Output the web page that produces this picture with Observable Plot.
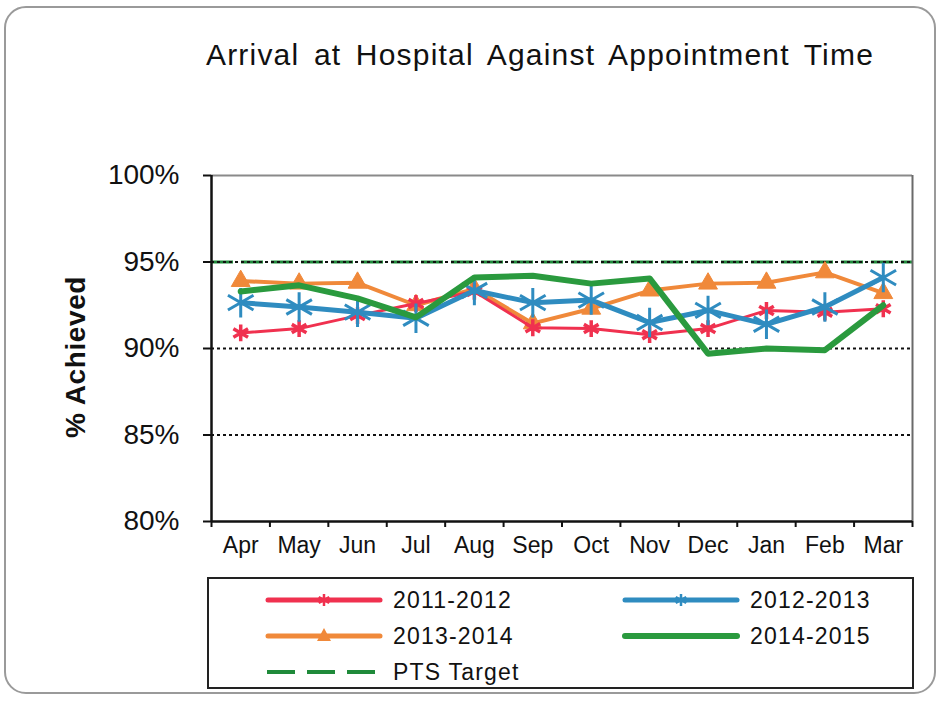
<!DOCTYPE html>
<html>
<head>
<meta charset="utf-8">
<script src="https://cdn.jsdelivr.net/npm/d3@7"></script>
<script src="https://cdn.jsdelivr.net/npm/@observablehq/plot@0.6"></script>
<style>
  html, body { margin: 0; padding: 0; background: #fff; }
  #wrap { position: relative; width: 942px; height: 702px; overflow: hidden; font-family: "Liberation Sans", Arial, sans-serif; }
  #border { position: absolute; left: 4px; top: 6px; width: 932px; height: 688px; border: 2px solid #9a9a9a; border-radius: 22px; box-sizing: border-box; }
  #title { position: absolute; left: 100px; width: 880px; top: 38px; text-align: center; font-size: 30px; color: #111; letter-spacing: 1.2px; word-spacing: 5px; }
  #chart { position: absolute; left: 0; top: 0; }
  #ylabel { position: absolute; left: 76px; top: 357px; transform: translate(-50%, -50%) rotate(-90deg); font-size: 28px; font-weight: bold; color: #111; white-space: nowrap; letter-spacing: 0.6px; }
  #legend { position: absolute; left: 207px; top: 577px; width: 707px; height: 112px; border: 2px solid #222; box-sizing: border-box; }
  .item { position: absolute; height: 30px; display: flex; align-items: center; font-size: 23px; color: #111; letter-spacing: 1.2px; }
  .item svg { margin-right: 10px; }
</style>
</head>
<body>
<div id="wrap">
  <div id="border"></div>
  <div id="title"></div>
  <div id="chart"></div>
  <div id="ylabel"></div>
  <div id="legend"></div>
</div>
<script>
const title = "Arrival at Hospital Against Appointment Time";
const yLabel = "% Achieved";
const months = ["Apr","May","Jun","Jul","Aug","Sep","Oct","Nov","Dec","Jan","Feb","Mar"];
const yTicks = [80, 85, 90, 95, 100];
const gridValues = [85, 90, 95];
const targetValue = 95;
const targetLabel = "PTS Target";

const s2011 = [90.9, 91.15, 91.9, 92.6, 93.3, 91.2, 91.15, 90.8, 91.15, 92.2, 92.1, 92.3];
const s2012 = [92.65, 92.4, 92.1, 91.75, 93.35, 92.65, 92.8, 91.5, 92.2, 91.4, 92.4, 94.1];
const s2013 = [93.9, 93.75, 93.8, 92.5, 93.45, 91.45, 92.3, 93.35, 93.75, 93.8, 94.4, 93.2];
const s2014 = [93.3, 93.65, 92.9, 91.8, 94.1, 94.2, 93.75, 94.05, 89.7, 90.0, 89.9, 92.5];

const seriesNames = ["2011-2012", "2012-2013", "2013-2014", "2014-2015"];
const seriesValues = [s2011, s2012, s2013, s2014];
const colors = {"2011-2012": "#f0314f", "2012-2013": "#2f8cc0", "2013-2014": "#f0893a", "2014-2015": "#2a9a3e"};
const targetColor = "#1f8a3a";

const rows = [];
seriesNames.forEach((name, si) => seriesValues[si].forEach((v, i) => rows.push({series: name, i, month: months[i], value: v})));
const bySeries = name => rows.filter(r => r.series === name);

document.getElementById("title").textContent = title;
document.getElementById("ylabel").textContent = yLabel;

const lineW = {"2011-2012": 3, "2012-2013": 5, "2013-2014": 4, "2014-2015": 6};
const order = ["2013-2014", "2011-2012", "2012-2013", "2014-2015"];

const marks = [
  Plot.ruleY([targetValue], {stroke: targetColor, strokeWidth: 3, strokeDasharray: "22,8"}),
  Plot.ruleY(gridValues, {stroke: "#111", strokeWidth: 2, strokeDasharray: "3,3"}),
  Plot.ruleY([100], {stroke: "#8a8a8a", strokeWidth: 2}),
  Plot.ruleX([11.5], {stroke: "#6a6a6a", strokeWidth: 2}),
];
for (const name of order) {
  marks.push(Plot.line(bySeries(name), {x: "i", y: "value", stroke: colors[name], strokeWidth: lineW[name], strokeLinejoin: "round"}));
  if (name === "2011-2012") {
    marks.push(Plot.dot(bySeries(name), {x: "i", y: "value", symbol: "asterisk", r: 8, stroke: colors[name], strokeWidth: 3.5}));
  } else if (name === "2012-2013") {
    marks.push(Plot.dot(bySeries(name), {x: "i", y: "value", symbol: "asterisk", r: 14, stroke: colors[name], strokeWidth: 3}));
  } else if (name === "2013-2014") {
    marks.push(Plot.dot(bySeries(name), {x: "i", y: "value", symbol: "triangle", r: 7, fill: colors[name], stroke: colors[name], strokeWidth: 1}));
  }
}
marks.push(
  Plot.ruleX([-0.5], {stroke: "#111", strokeWidth: 2.5}),
  Plot.ruleY([80], {stroke: "#111", strokeWidth: 2.5}),
  Plot.axisX(d3.range(-0.5, 12, 1), {tickSize: 6, tickFormat: () => "", stroke: "#111", strokeWidth: 2, label: null}),
  Plot.axisX(d3.range(0, 12), {tickSize: 0, tickPadding: 15, tickFormat: i => months[i], fontSize: 23, fill: "#111", label: null}),
  Plot.axisY(yTicks, {tickSize: 8, tickPadding: 24, tickFormat: d => d + "%", fontSize: 28, fill: "#111", stroke: "#111", strokeWidth: 2, label: null})
);

const chart = Plot.plot({
  width: 942,
  height: 570,
  marginTop: 175,
  marginBottom: 49,
  marginLeft: 211,
  marginRight: 30,
  x: {type: "linear", domain: [-0.5, 11.5], label: null},
  y: {domain: [80, 100], label: null},
  style: {fontFamily: "Liberation Sans, Arial, sans-serif", background: "transparent", overflow: "visible"},
  marks
});
document.getElementById("chart").appendChild(chart);

// Legend
const legendItems = [
  {name: "2011-2012", col: 0, row: 0, kind: "asterisk"},
  {name: "2012-2013", col: 1, row: 0, kind: "asterisk"},
  {name: "2013-2014", col: 0, row: 1, kind: "triangle"},
  {name: "2014-2015", col: 1, row: 1, kind: "none"},
  {name: targetLabel, col: 0, row: 2, kind: "dash"}
];
const leg = document.getElementById("legend");
for (const it of legendItems) {
  const div = document.createElement("div");
  div.className = "item";
  div.style.left = (it.col === 0 ? 56 : 413) + "px";
  div.style.top = (6 + it.row * 36) + "px";
  const w = 118, h = 30, cy = 15;
  let svg;
  if (it.kind === "dash") {
    svg = `<svg width="${w}" height="${h}"><line x1="2" x2="${w}" y1="${cy}" y2="${cy}" stroke="${targetColor}" stroke-width="4" stroke-dasharray="28,12"/></svg>`;
  } else {
    const c = colors[it.name];
    const sw = it.name === "2014-2015" ? 6 : 5;
    let marker = "";
    if (it.kind === "asterisk") {
      const r = 6;
      marker = `<g stroke="${c}" stroke-width="2.5"><line x1="${w/2}" x2="${w/2}" y1="${cy-r}" y2="${cy+r}"/><line x1="${w/2-r*0.87}" x2="${w/2+r*0.87}" y1="${cy-r/2}" y2="${cy+r/2}"/><line x1="${w/2-r*0.87}" x2="${w/2+r*0.87}" y1="${cy+r/2}" y2="${cy-r/2}"/></g>`;
    } else if (it.kind === "triangle") {
      marker = `<path d="M${w/2},${cy-8}L${w/2+7},${cy+5}L${w/2-7},${cy+5}Z" fill="${c}"/>`;
    }
    svg = `<svg width="${w}" height="${h}"><line x1="3" x2="${w-3}" y1="${cy}" y2="${cy}" stroke="${c}" stroke-width="${sw}" stroke-linecap="round"/>${marker}</svg>`;
  }
  div.innerHTML = svg + `<span>${it.name}</span>`;
  leg.appendChild(div);
}
</script>
</body>
</html>
